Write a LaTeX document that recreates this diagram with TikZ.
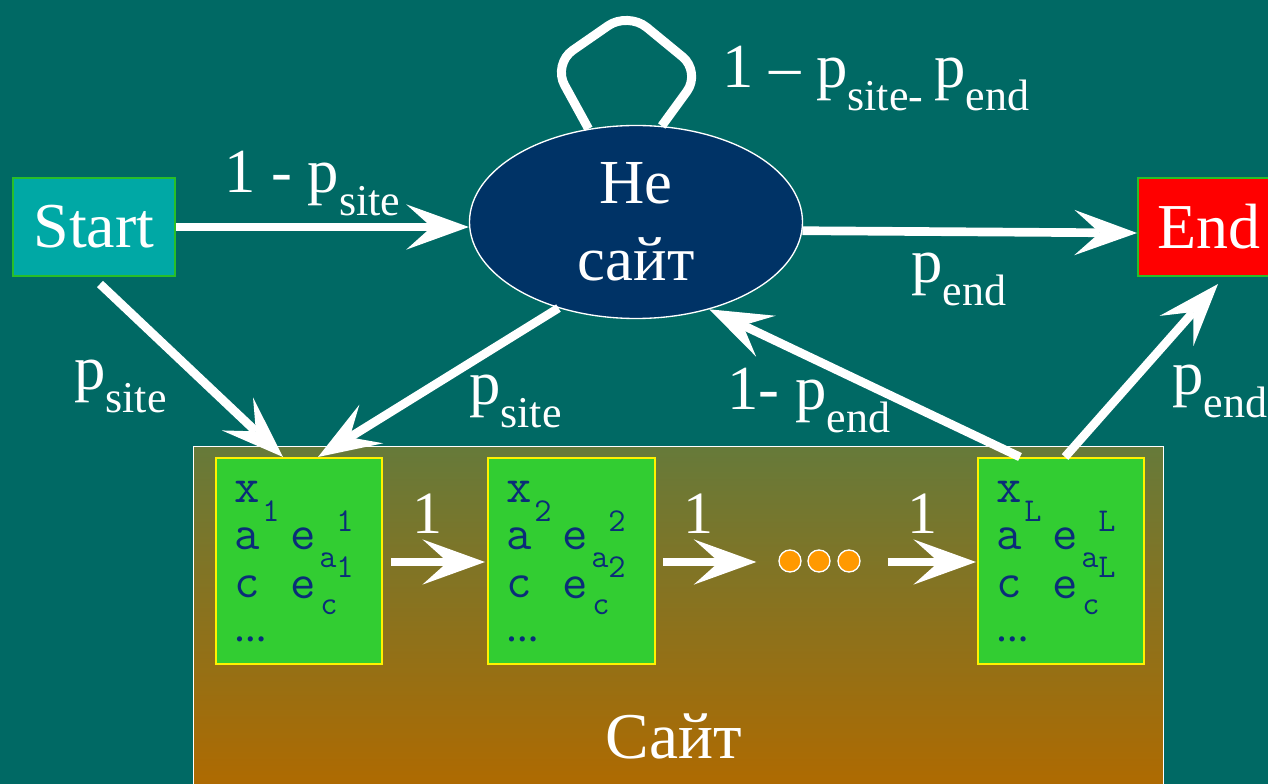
\documentclass[tikz,border=0pt]{standalone}
\usepackage{fontspec}
\setmainfont{Liberation Serif}
\newfontfamily\serifA{Liberation Serif}
\usetikzlibrary{arrows.meta,shapes.geometric}
\definecolor{bg}{RGB}{0,105,100}
\definecolor{startfill}{RGB}{0,168,165}
\definecolor{boxborder}{RGB}{40,190,40}
\definecolor{neblue}{RGB}{0,51,102}
\definecolor{sitetop}{RGB}{102,122,58}
\definecolor{sitebot}{RGB}{176,106,0}
\definecolor{stgreen}{RGB}{50,205,50}
\definecolor{txtblue}{RGB}{10,45,120}
\definecolor{dotorange}{RGB}{255,153,0}
\newcommand\lsub[1]{\raisebox{-17pt}{\fontsize{33}{33}\selectfont #1}}
\newcommand\statecontent[2]{%
  \path (#1.north west) ++(19,45) node[mt] (#1-x) {x}
        (#1.north west) ++(47,64) node[ms] (#1-xi) {#2}
        (#1.north west) ++(19,92) node[mt] (#1-a) {a}
        (#1.north west) ++(75,92) node[mt] (#1-ea) {e}
        (#1.north west) ++(121,74) node[ms] (#1-eai) {#2}
        (#1.north west) ++(19,140) node[mt] (#1-c) {c}
        (#1.north west) ++(75,141) node[mt] (#1-ec) {e}
        (#1.north west) ++(104,110) node[ms] (#1-ecsup) {a}
        (#1.north west) ++(121,120) node[ms] (#1-ecsupi) {#2}
        (#1.north west) ++(105,157) node[ms] (#1-ecsub) {c}
        (#1.north west) ++(19,184) node[mt, font=\fontsize{24}{24}\selectfont\serifA\bfseries] (#1-dots) {…};
}
\begin{document}
\begin{tikzpicture}[x=0.75pt,y=-0.75pt,
  sz/.style 2 args={minimum width=#1*0.75pt, minimum height=#2*0.75pt},
  statebox/.style={fill=stgreen, draw=yellow, line width=1.5pt, inner sep=0pt},
  dotnode/.style={circle, fill=dotorange, draw=white, line width=1pt, minimum size=22*0.75pt, inner sep=0pt},
  arr/.style={draw=white, line width=6.5pt, -{Stealth[length=47pt, width=34pt, inset=19pt, line width=0pt]}},
  lbl/.style={text=white, inner sep=0pt, anchor=base west, font=\fontsize{47}{47}\selectfont\serifA},
  one/.style={text=white, inner sep=0pt, anchor=base, font=\fontsize{45}{45}\selectfont\serifA},
  mt/.style={font=\fontsize{37}{37}\selectfont\ttfamily, text=txtblue, inner sep=0pt, anchor=base west},
  ms/.style={mt, font=\fontsize{25}{25}\selectfont\ttfamily}]
\fill[bg] (0,0) rectangle (1268,784);
\useasboundingbox (0,0) rectangle (1268,784);

% site container
\node[draw=white, line width=0.75pt, top color=sitetop, bottom color=sitebot, sz={970}{345}, inner sep=0pt] (site) at (678,618.5) {};
\node[text=white, inner sep=0pt, anchor=base, font=\fontsize{49}{49}\selectfont\serifA] (sitelbl) at (674,758) {Сайт};

% states
\node[statebox, sz={166}{206}] (s1) at (299,561) {};
\node[statebox, sz={167}{206}] (s2) at (571.5,561) {};
\node[statebox, sz={166}{206}] (s3) at (1061,561) {};
\statecontent{s1}{1}
\statecontent{s2}{2}
\statecontent{s3}{L}

\node[dotnode] (d1) at (790,561) {};
\node[dotnode] (d2) at (819,561) {};
\node[dotnode] (d3) at (849,561) {};

% top nodes
\node[draw=boxborder, fill=startfill, line width=1.5pt, sz={162}{98}, inner sep=0pt,
      text=white, font=\fontsize{48}{48}\selectfont\serifA] (start) at (94,227) {Start};
\node[draw=boxborder, fill=red, line width=1.5pt, sz={142}{98}, inner sep=0pt,
      text=white, font=\fontsize{48}{48}\selectfont\serifA] (endn) at (1209,227) {End};
\node[ellipse, draw=white, line width=1pt, fill=neblue, sz={333}{193}, inner sep=0pt,
      text=white, align=center, font=\fontsize{47}{58}\selectfont\serifA] (ne) at (636,222) {Не\\сайт};

% connectors
\draw[white, line width=6.75pt, rounded corners=18pt] (ne.117) -- (553,64) -- (628,12) -- (701,72) -- (ne.75);
\draw[arr] (start.east) -- (start.east -| ne.west);
\draw[arr] ([shift={(6,7)}]start.south) -- ([shift={(-16,0)}]s1.north);
\draw[arr] (ne.228) -- ([shift={(19,0)}]s1.north);
\draw[arr] ([shift={(-41,0)}]s3.north) -- (ne.-50);
\draw[arr] ([shift={(4,0)}]s3.north) -- ([shift={(9,7)}]endn.south);
\draw[arr] (ne.-3) -- ([shift={(0,6)}]endn.west);
\draw[arr] ([shift={(8,1)}]s1.east) -- ([shift={(-2,1)}]s2.west);
\draw[arr] ([shift={(7,1)}]s2.east) -- ([shift={(-22,1)}]d1.west);
\draw[arr] ([shift={(27,1)}]d3.east) -- ([shift={(-1,1)}]s3.west);

% labels
\node[lbl] (l1) at (224,193) {1 - p\lsub{site}};
\node[lbl] (l2) at (722,88) {1 – p\lsub{site-\ }p\lsub{end}};
\node[lbl] (l3) at (911,283) {p\lsub{end}};
\node[lbl] (l4) at (74,390) {p\lsub{site}};
\node[lbl] (l5) at (469,405) {p\lsub{site}};
\node[lbl] (l6) at (727,410) {1- p\lsub{end}};
\node[lbl] (l7) at (1172,395) {p\lsub{end}};
\node[one] (o1) at (427,533) {1};
\node[one] (o2) at (698,533) {1};
\node[one] (o3) at (922,533) {1};
\end{tikzpicture}
\end{document}
